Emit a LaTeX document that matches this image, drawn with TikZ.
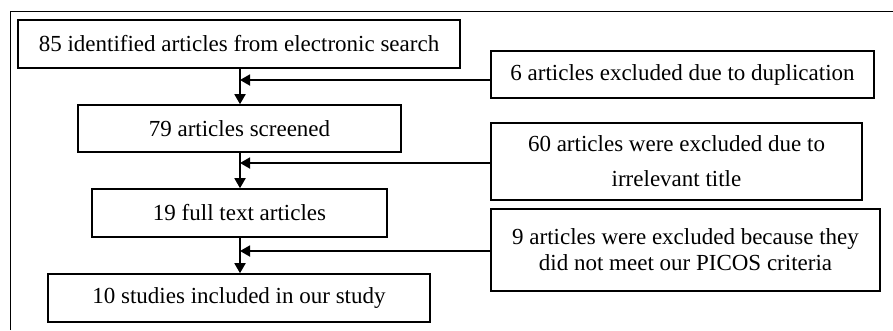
\documentclass[tikz,border=0pt]{standalone}
\usepackage{fontspec}
\setmainfont{Liberation Serif}
\usetikzlibrary{arrows.meta}
\begin{document}
\begin{tikzpicture}[x=1pt,y=-1pt,
  box/.style={draw,line width=1.6pt,inner sep=0pt,align=center,font=\fontsize{23}{26}\selectfont},
  arr/.style={line width=1.8pt,-{Triangle[length=10pt,width=11pt]}},
  frame/.style={line width=1pt}]
\useasboundingbox (0,0) rectangle (893,330);
\draw[frame] (10,330) -- (10,11) -- (893,11);
\node[box,minimum width=442pt,minimum height=48pt] (b1) at (239,44) {85 identified articles from electronic search};
\node[box,minimum width=323pt,minimum height=47pt] (b2) at (239.5,128.5) {79 articles screened};
\node[box,minimum width=295pt,minimum height=48pt] (b3) at (239.5,213) {19 full text articles};
\node[box,minimum width=382pt,minimum height=48pt] (b4) at (239,298) {10 studies included in our study};
\node[box,minimum width=383pt,minimum height=47pt] (e1) at (682.5,74.5) {6 articles excluded due to duplication};
\node[box,minimum width=371pt,minimum height=77pt] (e2) at (676.5,161.5) {60 articles were excluded due to\\[9pt]irrelevant title};
\node[box,minimum width=389pt,minimum height=82pt] (e3) at (685.5,250) {9 articles were excluded because they\\did not meet our PICOS criteria};
\coordinate (j1) at (240,80);
\coordinate (j2) at (240,163);
\coordinate (j3) at (240,251);
\draw[arr] (b1.south -| j1) -- (b2.north -| j1);
\draw[arr] (b2.south -| j1) -- (b3.north -| j1);
\draw[arr] (b3.south -| j1) -- (b4.north -| j1);
\draw[arr] (e1.west |- j1) -- (j1);
\draw[arr] (e2.west |- j2) -- (j2);
\draw[arr] (e3.west |- j3) -- (j3);
\end{tikzpicture}
\end{document}
